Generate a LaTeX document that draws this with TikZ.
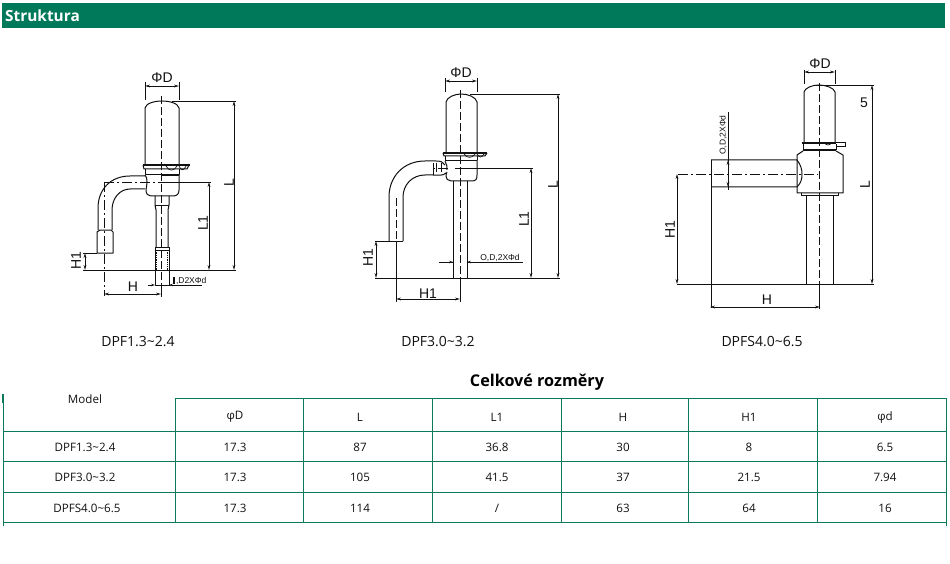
\documentclass[tikz,border=0pt]{standalone}
\usepackage{fontspec}
\setmainfont{Open Sans}
\newfontfamily\dimfont{Liberation Sans}
\usetikzlibrary{arrows.meta}
\definecolor{hdr}{HTML}{00795A}
\definecolor{rule}{HTML}{0B7A5C}
\definecolor{ink}{HTML}{111111}
\tikzset{
  part/.style={draw=ink,line width=1pt,line join=round},
  thin part/.style={draw=ink,line width=.7pt},
  extline/.style={draw=ink,line width=.8pt},
  dimline/.style={draw=ink,line width=.8pt,{Stealth[length=5pt,width=2.8pt,fill=gray]}-{Stealth[length=5pt,width=2.8pt,fill=gray]}},
  axis/.style={draw=ink,line width=.8pt,dash pattern=on 10pt off 3pt on 2pt off 3pt},
  dash axis/.style={draw=ink,line width=.8pt,dash pattern=on 8pt off 3pt},
  dimtext/.style={text=ink,font=\dimfont\fontsize{14}{14}\selectfont,inner sep=0pt},
  smalldim/.style={text=ink,font=\dimfont\fontsize{8.5}{8.5}\selectfont,inner sep=0pt},
  cell/.style={text=ink,font=\fontsize{11.6}{13}\selectfont,inner sep=0pt},
  caption/.style={text=ink,font=\fontsize{14}{16}\selectfont,inner sep=0pt},
  grid/.style={draw=rule,line width=1pt},
}
\begin{document}
\begin{tikzpicture}[x=1pt,y=-1pt]
\useasboundingbox (0,0) rectangle (950,564);
\fill[white] (0,0) rectangle (950,564);
% header
\fill[hdr] (2,3) rectangle (945,28.5);
\node[anchor=west,text=white,inner sep=0pt,font=\bfseries\fontsize{15.4}{17}\selectfont] (head) at (5,15.5) {Struktura};

% ---------- DPF1.3~2.4
\draw[part] (145,165)--(145,108) .. controls (146,103) and (155,101) .. (162,101) .. controls (169,101) and (178,103) .. (179,108)--(179,165);
\draw[part,line width=1.2pt] (143,165)--(190,165);
\draw[part] (143,165)--(144,169)--(187,169)--(189,165);
\draw[part] (145,169)--(145,175)--(179,175)--(179,169);
\draw[part,line width=1.5pt] (162,175)--(179,175);
\draw[thin part] (166,166) .. controls (169,171.5) and (174,171.5) .. (177,166) (179,166) .. controls (181,171) and (184,171) .. (186,166);
\draw[part] (145,175) .. controls (148,178) and (147,184) .. (146,190) .. controls (146,194) and (148,196) .. (151,196)--(173,196) .. controls (177,196) and (179,194) .. (179,190)--(179,175);
\draw[part] (155,196)--(155,205)--(156,210)--(156,247) (169,196)--(169,205)--(168,210)--(168,247);
\draw[thin part] (155,205)--(169,205);
\draw[part] (155,247)--(169,247);
\draw[part] (155,250)--(169,250);
\draw[part] (155,247)--(155,285)--(169,285)--(169,247);
\draw[draw=ink,line width=1.3pt,densely dotted] (156.5,250)--(156.5,270) (167.5,250)--(167.5,270);
\draw[part] (145,176)--(130,176) .. controls (110,176) and (98,190) .. (98,208)--(98,230);
\draw[part] (145,189)--(130,189) .. controls (120,189) and (112,198) .. (112,210)--(112,230);
\draw[part] (97,253)--(97,232)--(100,230)--(111,230)--(113,232)--(113,253)--cycle;
\draw[dash axis] (161,96)--(161,285);
\draw[axis] (104,182)--(161,182);
\draw[axis] (104,182)--(104,296);
\draw[extline] (172,101)--(236,101);
\draw[extline] (160,182)--(211,182);
\draw[extline] (83,270)--(236,270);
\draw[extline] (83,253)--(97,253);
\draw[extline] (161,285)--(161,297);
\draw[extline] (169,285)--(202,285);
\draw[dimline] (145,86)--(179,86);
\draw[extline] (145,82)--(145,100) (179,82)--(179,100);
\draw[dimline] (234,101)--(234,270);
\draw[dimline] (209,182)--(209,270);
\draw[dimline] (85,253)--(85,270);
\draw[dimline] (104,294)--(161,294);
\draw[draw=ink,line width=.8pt,-{Stealth[length=4pt,width=2.6pt,fill=gray]}] (176,285)--(169,285);
\draw[draw=ink,line width=.8pt,-{Stealth[length=4pt,width=2.6pt,fill=gray]}] (148,285)--(155,285);
\node[dimtext] (a1) at (162,78) {ΦD};
\node[dimtext,rotate=90] (a2) at (229,183) {L};
\node[dimtext,rotate=90] (a3) at (203,223) {L1};
\node[dimtext,rotate=90] (a4) at (76,261) {H1};
\node[dimtext] (a5) at (133,287) {H};
\node[smalldim,anchor=west] (a6) at (173,281) {\rule{1.4pt}{7pt}\,,D2XΦd};
\node[caption] (cap1) at (138,342) {DPF1.3\textasciitilde2.4};

% ---------- DPF3.0~3.2
\draw[part] (446,153)--(446,102) .. controls (447,97) and (455,94) .. (461,94) .. controls (468,94) and (476,97) .. (477,102)--(477,153);
\draw[part,line width=1.2pt] (443,153)--(487,153);
\draw[part] (443,153)--(444,156)--(485,156)--(487,153);
\draw[part] (445,156)--(445,161) (477,156)--(477,160);
\draw[part,line width=1.3pt] (445,160.5)--(477,160.5);
\draw[thin part] (464,154) .. controls (467,158.5) and (472,158.5) .. (475,154) (477,154) .. controls (479,158) and (482,158) .. (484,154);
\draw[part] (445,161) .. controls (447,164) and (447,167) .. (447,170) (447,172)--(446,175) .. controls (446,179) and (448,181) .. (451,181)--(472,181) .. controls (476,181) and (477,179) .. (477,175)--(477,160);
\draw[part] (453,181)--(453,278) (467,181)--(467,278);
\draw[part] (436,161)--(425,161)  .. controls (403,161) and (389,177) .. (389,197)--(389,241);
\draw[part] (433,175)--(425,175) .. controls (412,175) and (403,185) .. (403,197)--(403,241);
\draw[part] (436,161) .. controls (441,161) and (443,162) .. (445,165);
\draw[part] (433,175) .. controls (439,175) and (443,176) .. (446,173);
\draw[thin part] (436,163)--(436,172) (441,163)--(441,172) (433,163)--(433,175);
\draw[dash axis] (460,90)--(460,278);
\draw[dash axis] (396,198)--(396,241);
\draw[axis] (448,168)--(433,168);
\draw[extline] (396,241)--(396,302);
\draw[extline] (460,278)--(460,302);
\draw[extline] (470,94)--(560,94);
\draw[extline] (455,168)--(533,168);
\draw[extline] (375,278)--(560,278);
\draw[extline] (375,241)--(403,241);
\draw[extline] (445,78)--(445,92) (477,78)--(477,92);
\draw[dimline] (445,81)--(477,81);
\draw[dimline] (558,94)--(558,278);
\draw[dimline] (531,168)--(531,278);
\draw[dimline] (376,241)--(376,278);
\draw[dimline] (396,299)--(460,299);
\draw[extline] (439,262)--(453,262);
\draw[extline] (467,262)--(523,262);
\draw[draw=ink,line width=.8pt,-{Stealth[length=4pt,width=2.6pt,fill=gray]}] (446,262)--(453,262);
\draw[draw=ink,line width=.8pt,-{Stealth[length=4pt,width=2.6pt,fill=gray]}] (474,262)--(467,262);
\node[dimtext] (b1) at (461,73) {ΦD};
\node[dimtext,rotate=90] (b2) at (553,185) {L};
\node[dimtext,rotate=90] (b3) at (524,219) {L1};
\node[dimtext,rotate=90] (b4) at (368,258) {H1};
\node[dimtext] (b5) at (428,294) {H1};
\node[smalldim] (b6) at (500,258) {O,D,2XΦd};
\node[caption] (cap2) at (438,342) {DPF3.0\textasciitilde3.2};

% ---------- DPFS4.0~6.5
\draw[part] (804,142)--(804,92) .. controls (805,88) and (812,85) .. (819,85) .. controls (826,85) and (834,88) .. (835,92)--(835,142);
\draw[part,line width=2pt] (802,143)--(836,143);
\draw[thin part] (836,142)--(845,142)--(845,146)--(836,146);
\draw[thin part] (824,142) .. controls (826,146) and (830,146) .. (832,142);
\draw[part] (803,144)--(803,150) (836,144)--(836,150);
\draw[part,line width=2pt] (803,150.5)--(836,150.5);
\draw[part] (803,151)--(797,155)--(797,193)--(843,193)--(843,155)--(836,151);
\draw[part] (801,193)--(801,196)--(838,196)--(838,193);
\draw[part] (806,196)--(806,284) (833,196)--(833,284);
\draw[part] (711,160)--(797,160) .. controls (801,165) and (802,170) .. (802,174) .. controls (802,179) and (801,183) .. (797,187)--(711,187);
\draw[extline] (711,160)--(711,308);
\draw[dash axis] (819,83)--(819,284);
\draw[axis] (678,174)--(818,174);
\draw[extline] (819,284)--(819,309);
\draw[extline] (814,85)--(874,85);
\draw[extline] (677,284)--(874,284);
\draw[extline] (804,70)--(804,84) (835,70)--(835,84);
\draw[dimline] (804,72)--(835,72);
\draw[dimline] (872,85)--(872,284);
\draw[dimline] (677,174)--(677,284);
\draw[dimline] (710,307)--(820,307);
\draw[extline] (728,112)--(728,190);
\draw[dimline] (728,160)--(728,187);
\node[dimtext] (c1) at (820,64) {ΦD};
\node[dimtext] (c2) at (864,103) {5};
\node[dimtext,rotate=90] (c3) at (865,185) {L};
\node[dimtext,rotate=90] (c4) at (670,230) {H1};
\node[dimtext] (c5) at (767,300) {H};
\node[smalldim,rotate=90] (c6) at (723,135) {O,D,2XΦd};
\node[caption] (cap3) at (762,342) {DPFS4.0\textasciitilde6.5};

% ---------- table
\node[text=black,inner sep=0pt,font=\bfseries\fontsize{16.2}{18}\selectfont] (title) at (537,382) {Celkové rozměry};
\draw[grid] (175,398)--(946,398);
\foreach \y in {431,461,492,522} \draw[grid] (3,\y)--(946,\y);
\draw[grid] (3,394)--(3,526);
\draw[grid,line width=1.8pt] (3,394)--(3,403);
\draw[grid] (946,398)--(946,526);
\foreach \x in {175,303,432,561,688,817} \draw[grid] (\x,398)--(\x,522);
\node[cell] (m) at (85,399.5) {Model};
\node[cell] (h1) at (235,417) {φD};
\node[cell] (h2) at (360,417) {L};
\node[cell] (h3) at (497,417) {L1};
\node[cell] (h4) at (623,417) {H};
\node[cell] (h5) at (749,417) {H1};
\node[cell] (h6) at (885,417) {φd};
\node[cell] (r10) at (85,447) {DPF1.3\textasciitilde2.4};
\node[cell] (r11) at (235,447) {17.3};
\node[cell] (r12) at (360,447) {87};
\node[cell] (r13) at (497,447) {36.8};
\node[cell] (r14) at (623,447) {30};
\node[cell] (r15) at (749,447) {8};
\node[cell] (r16) at (885,447) {6.5};
\node[cell] (r20) at (85,477.5) {DPF3.0\textasciitilde3.2};
\node[cell] (r21) at (235,477.5) {17.3};
\node[cell] (r22) at (360,477.5) {105};
\node[cell] (r23) at (497,477.5) {41.5};
\node[cell] (r24) at (623,477.5) {37};
\node[cell] (r25) at (749,477.5) {21.5};
\node[cell] (r26) at (885,477.5) {7.94};
\node[cell] (r30) at (87,508) {DPFS4.0\textasciitilde6.5};
\node[cell] (r31) at (235,508) {17.3};
\node[cell] (r32) at (360,508) {114};
\node[cell] (r33) at (497,508) {/};
\node[cell] (r34) at (623,508) {63};
\node[cell] (r35) at (749,508) {64};
\node[cell] (r36) at (885,508) {16};
\end{tikzpicture}
\end{document}
